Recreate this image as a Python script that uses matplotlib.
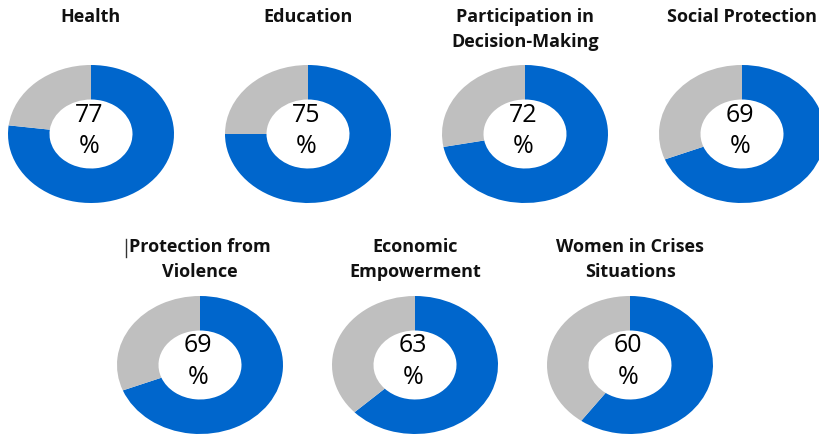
import matplotlib.pyplot as plt

# data
titles = ['Health', 'Education', 'Participation in\nDecision-Making', 'Social Protection',
          'Protection from\nViolence', 'Economic\nEmpowerment', 'Women in Crises\nSituations']
values = [77, 75, 72, 69, 69, 63, 60]

blue = '#0066CC'
grey = '#BFBFBF'

W, H = 819, 435
fig = plt.figure(figsize=(8.19, 4.35), dpi=100)
fig.set_facecolor('white')

# donut centres in pixels (layout)
centres = [(91, 135), (308, 135), (525, 135), (742, 135),
           (200, 366), (415, 366), (630, 366)]
dw, dh = 166, 138

for (cx, cy), v in zip(centres, values):
    ax = fig.add_axes([(cx - dw / 2) / W, 1 - (cy + dh / 2) / H, dw / W, dh / H])
    ax.pie([v, 100 - v], colors=[blue, grey], startangle=90, counterclock=False,
           radius=1, wedgeprops=dict(width=0.5, edgecolor='none'))
    ax.set_aspect('auto')
    ax.set_xlim(-1, 1)
    ax.set_ylim(-1, 1)
    ax.axis('off')

# overlay for text, pixel coords
tx = fig.add_axes([0, 0, 1, 1])
tx.set_xlim(0, W)
tx.set_ylim(H, 0)
tx.axis('off')
tx.patch.set_alpha(0)

for i, ((cx, cy), v, t) in enumerate(zip(centres, values, titles)):
    ty = 17 if i < 4 else 247
    lines = t.split('\n')
    for k, line in enumerate(lines):
        tx.text(cx, ty + 25 * k, line, ha='center', va='center', fontsize=13,
                fontweight='bold', family='Open Sans', color='#111111')
    tx.text(cx - 2, cy - 20, str(v), ha='center', va='center', fontsize=18,
            family='Open Sans', color='black')
    tx.text(cx - 2, cy + 12, '%', ha='center', va='center', fontsize=18,
            family='Open Sans', color='black')

# stray caret in front of "Protection from"
tx.plot([126, 126], [240, 258], color='#333333', lw=1)

fig.savefig('out.png', dpi=100)
